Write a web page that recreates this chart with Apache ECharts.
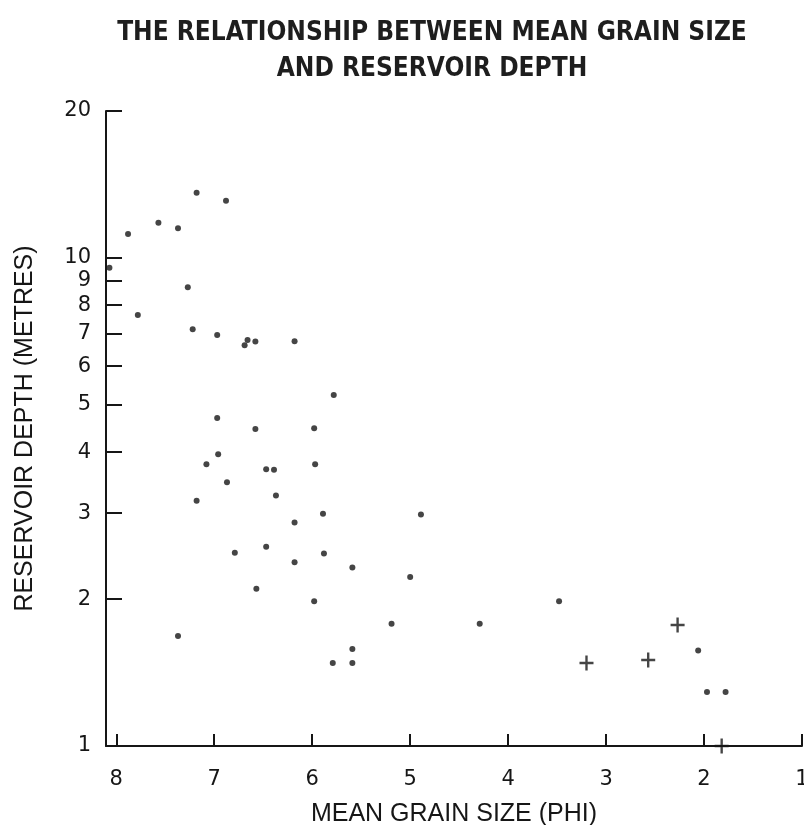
<!DOCTYPE html>
<html>
<head>
<meta charset="utf-8">
<title>Mean grain size vs reservoir depth</title>
<script src="https://cdn.jsdelivr.net/npm/echarts@6/dist/echarts.min.js"></script>
<style>
  html, body { margin: 0; padding: 0; background: #ffffff; }
  #chart { width: 804px; height: 825px; }
</style>
</head>
<body>
<div id="chart"></div>
<script>
// Samples plotted as dots: mean grain size (phi) and reservoir depth (m)
const dotPhi = [
  7.18, 6.88, 7.57, 7.37, 7.88, 8.07, 7.27, 7.78, 7.22, 6.97,
  6.66, 6.69, 6.58, 6.18, 5.78, 6.97, 6.58, 5.98, 6.96, 7.08,
  6.47, 6.39, 5.97, 6.87, 6.37, 7.18, 5.89, 6.18, 6.79, 6.47,
  5.88, 6.18, 5.59, 6.57, 5.98, 7.37, 5.19, 5.59, 5.79, 5.59,
  5.00, 4.89, 4.29, 3.48, 2.06, 1.97, 1.78
];
const dotDepth = [
  13.6, 13.1, 11.8, 11.5, 11.2, 9.55, 8.71, 7.64, 7.14, 6.95,
  6.79, 6.62, 6.74, 6.75, 5.24, 4.70, 4.46, 4.48, 3.96, 3.78,
  3.69, 3.68, 3.78, 3.47, 3.26, 3.18, 2.99, 2.87, 2.49, 2.56,
  2.48, 2.38, 2.32, 2.10, 1.98, 1.68, 1.78, 1.58, 1.48, 1.48,
  2.22, 2.98, 1.78, 1.98, 1.57, 1.29, 1.29
];

// Samples plotted as crosses
const crossPhi = [3.20, 2.57, 2.27, 1.82];
const crossDepth = [1.48, 1.50, 1.77, 1.00];

// Axis tick positions
const xTicks = [1, 2, 3, 4, 5, 6, 7, 8];
const yTicks = [1, 2, 3, 4, 5, 6, 7, 8, 9, 10, 20];

const ink = '#161616';
const plainFont = "'Liberation Sans', Arial, Helvetica, sans-serif";
const titleFont = "'Liberation Sans Narrow', 'Arial Narrow', 'DejaVu Sans Condensed', sans-serif";
const digitFont = "'DejaVu Sans', 'Liberation Sans', sans-serif";

const zip = (xs, ys) => xs.map((x, i) => [x, ys[i]]);

// plus-sign marker, arms a little over two units thick
const plusPath = 'path://M5.4,0H7.6V5.4H13V7.6H7.6V13H5.4V7.6H0V5.4H5.4Z';

const chart = echarts.init(document.getElementById('chart'), null, { renderer: 'canvas' });

chart.setOption({
  backgroundColor: '#ffffff',
  animation: false,
  title: {
    text: 'THE RELATIONSHIP BETWEEN MEAN GRAIN SIZE\nAND RESERVOIR DEPTH',
    left: 432,
    top: 15,
    textAlign: 'center',
    padding: 0,
    textStyle: {
      fontFamily: titleFont,
      fontSize: 26,
      fontWeight: 'bold',
      color: '#1e1e1e',
      lineHeight: 36
    }
  },
  grid: {
    left: 106,
    right: 2,
    top: 111,
    bottom: 79,
    outerBoundsMode: 'none',
    containLabel: false
  },
  xAxis: {
    type: 'value',
    inverse: true,
    min: 1,
    max: 8.105,
    name: 'MEAN GRAIN SIZE (PHI)',
    nameLocation: 'middle',
    nameGap: 56,
    nameTextStyle: { fontFamily: plainFont, fontSize: 25, color: ink },
    axisLine: { show: true, onZero: false, lineStyle: { color: ink, width: 2 } },
    axisTick: {
      show: true,
      inside: true,
      length: 12,
      customValues: xTicks,
      lineStyle: { color: ink, width: 2 }
    },
    axisLabel: {
      show: true,
      margin: 23,
      customValues: xTicks,
      fontFamily: digitFont,
      fontSize: 21,
      color: ink
    },
    splitLine: { show: false }
  },
  yAxis: {
    type: 'log',
    logBase: 10,
    min: 1,
    max: 20,
    name: 'RESERVOIR DEPTH (METRES)',
    nameLocation: 'middle',
    nameRotate: 90,
    nameGap: 68,
    nameTextStyle: { fontFamily: plainFont, fontSize: 25, color: ink },
    axisLine: { show: true, onZero: false, lineStyle: { color: ink, width: 2 } },
    axisTick: {
      show: true,
      inside: true,
      length: 16,
      customValues: yTicks.slice(1),
      lineStyle: { color: ink, width: 2 }
    },
    axisLabel: {
      show: true,
      margin: 15,
      customValues: yTicks,
      fontFamily: digitFont,
      fontSize: 21,
      color: ink
    },
    splitLine: { show: false }
  },
  series: [
    {
      name: 'dots',
      type: 'scatter',
      clip: false,
      symbol: 'circle',
      symbolSize: 6,
      itemStyle: { color: ink },
      data: zip(dotPhi, dotDepth)
    },
    {
      name: 'crosses',
      type: 'scatter',
      clip: false,
      symbol: plusPath,
      symbolSize: [14, 15],
      itemStyle: { color: ink },
      data: zip(crossPhi, crossDepth)
    }
  ]
});
</script>
</body>
</html>
